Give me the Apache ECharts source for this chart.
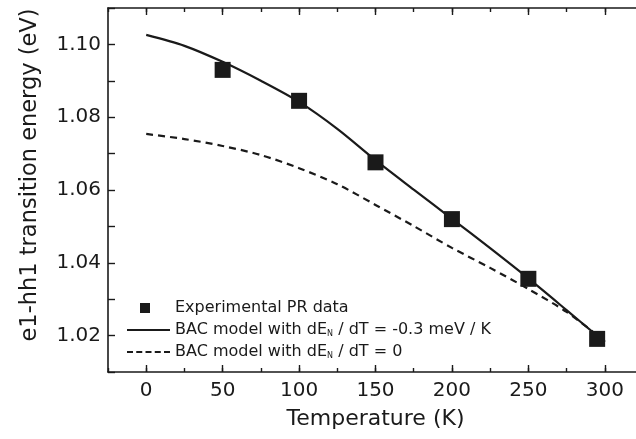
<!DOCTYPE html>
<html>
<head>
<meta charset="utf-8">
<script src="https://cdn.jsdelivr.net/npm/echarts@6/dist/echarts.min.js"></script>
<style>
  html, body { margin: 0; padding: 0; background: #fff; }
  #chart { width: 636px; height: 439px; }
</style>
</head>
<body>
<div id="chart"></div>
<script>
    // measured PR points
    var tempPR = [50, 100, 150, 200, 250, 295];
    var energyPR = [1.0930, 1.0845, 1.0676, 1.0520, 1.0356, 1.0191];

    // BAC model curves, read every 25 K
    var modelT = [0, 25, 50, 75, 100, 125, 150, 175, 200, 225, 250, 275, 300];
    var bacSlope = [1.1026, 1.0996, 1.0952, 1.0900, 1.0842, 1.0768, 1.0682, 1.0601, 1.0521, 1.0440, 1.0357, 1.0270, 1.0182];
    var bacFlat = [1.0754, 1.0740, 1.0721, 1.0696, 1.0660, 1.0616, 1.0559, 1.0501, 1.0441, 1.0386, 1.0328, 1.0265, 1.0185];

    var xTicks = [0, 50, 100, 150, 200, 250, 300];
    var yTicks = [1.02, 1.04, 1.06, 1.08, 1.10];

    var names = ['Experimental PR data',
                 'BAC model with dE_N / dT = -0.3 meV / K',
                 'BAC model with dE_N / dT = 0'];

    function pairs(xs, ys) {
        var out = [];
        for (var i = 0; i < xs.length; i++) out.push([xs[i], ys[i]]);
        return out;
    }

    var font = 'DejaVu Sans';
    var ink = '#1a1a1a';

    // legend icons, drawn in a 43 x 10 box (tiny corner dots pin the box size)
    var pin = 'M0,0h0.01v0.01h-0.01z M42.99,9.99h0.01v0.01h-0.01z ';
    var iconSquare = 'path://' + pin + 'M13,0h10v10h-10z';
    var iconSolid = 'path://' + pin + 'M0,3.9h43v2.2h-43z';
    var iconDash = 'path://' + pin + 'M0,3.9h6v2.2h-6z M9.25,3.9h6v2.2h-6z M18.5,3.9h6v2.2h-6z M27.75,3.9h6v2.2h-6z M37,3.9h6v2.2h-6z';

    var chart = echarts.init(document.getElementById('chart'), null, {renderer: 'canvas'});

    var xBase = {
        type: 'value', min: -25, max: 325, interval: 25,
        splitLine: {show: false}
    };
    var yBase = {
        type: 'value', min: 1.01, max: 1.11, interval: 0.01,
        splitLine: {show: false}
    };
    var axisLine = {show: true, onZero: false, lineStyle: {color: ink, width: 1.6}};

    var option = {
        backgroundColor: '#fff',
        animation: false,
        grid: {left: 108, top: 8, width: 535, height: 364, outerBoundsMode: 'none', containLabel: false},
        legend: {
            orient: 'vertical',
            left: 127, top: 300,
            padding: 0,
            itemWidth: 43, itemHeight: 10, itemGap: 6,
            data: [
                {name: names[0], icon: iconSquare},
                {name: names[1], icon: iconSolid},
                {name: names[2], icon: iconDash}
            ],
            formatter: function (name) {
                return '{b|' + name.replace('_N', '}{s|N}{b|') + '}';
            },
            textStyle: {
                color: ink, fontFamily: font, fontSize: 16,
                rich: {
                    b: {fontFamily: font, fontSize: 16, color: ink, lineHeight: 16, verticalAlign: 'top'},
                    s: {fontFamily: font, fontSize: 8, color: ink, lineHeight: 8, verticalAlign: 'bottom'}
                }
            }
        }
    };

    option.xAxis = [
        Object.assign({}, xBase, {
            position: 'bottom',
            name: 'Temperature (K)', nameLocation: 'middle', nameGap: 36,
            nameTextStyle: {fontFamily: font, fontSize: 22, color: ink},
            axisLine: axisLine,
            axisTick: {inside: true, length: 4, lineStyle: {color: ink, width: 1.4}},
            axisLabel: {
                customValues: xTicks, margin: 9,
                fontFamily: font, fontSize: 20, color: ink,
                formatter: function (v) { return String(v); }
            }
        }),
        Object.assign({}, xBase, {
            position: 'bottom',
            axisLine: {show: false, onZero: false},
            axisTick: {inside: true, length: 7, customValues: xTicks, lineStyle: {color: ink, width: 1.4}},
            axisLabel: {show: false}
        }),
        Object.assign({}, xBase, {
            position: 'top',
            axisLine: axisLine,
            axisTick: {inside: true, length: 4, lineStyle: {color: ink, width: 1.4}},
            axisLabel: {show: false}
        }),
        Object.assign({}, xBase, {
            position: 'top',
            axisLine: {show: false, onZero: false},
            axisTick: {inside: true, length: 7, customValues: xTicks, lineStyle: {color: ink, width: 1.4}},
            axisLabel: {show: false}
        })
    ];

    option.yAxis = [
        Object.assign({}, yBase, {
            position: 'left',
            name: 'e1-hh1 transition energy (eV)', nameLocation: 'middle', nameGap: 66,
            nameTextStyle: {fontFamily: font, fontSize: 22.5, color: ink, padding: [0, 0, 0, 30]},
            axisLine: axisLine,
            axisTick: {inside: true, length: 7, lineStyle: {color: ink, width: 1.4}},
            axisLabel: {
                customValues: yTicks, margin: 7,
                fontFamily: font, fontSize: 20, color: ink,
                formatter: function (v) { return v.toFixed(2); }
            }
        }),
        Object.assign({}, yBase, {
            position: 'right',
            axisLine: axisLine,
            axisTick: {inside: true, length: 7, lineStyle: {color: ink, width: 1.4}},
            axisLabel: {show: false}
        })
    ];

    option.series = [
        {
            name: names[0],
            type: 'scatter',
            symbol: 'rect',
            symbolSize: 16,
            z: 5,
            itemStyle: {color: ink, opacity: 1},
            data: pairs(tempPR, energyPR)
        },
        {
            name: names[1],
            type: 'line',
            smooth: 0.3,
            symbol: 'none',
            z: 3,
            itemStyle: {color: ink},
            lineStyle: {color: ink, width: 2.2},
            data: pairs(modelT, bacSlope)
        },
        {
            name: names[2],
            type: 'line',
            smooth: 0.3,
            symbol: 'none',
            z: 3,
            itemStyle: {color: ink},
            lineStyle: {color: ink, width: 2.2, type: [7, 5]},
            data: pairs(modelT, bacFlat)
        }
    ];

    chart.setOption(option);
</script>
</body>
</html>
